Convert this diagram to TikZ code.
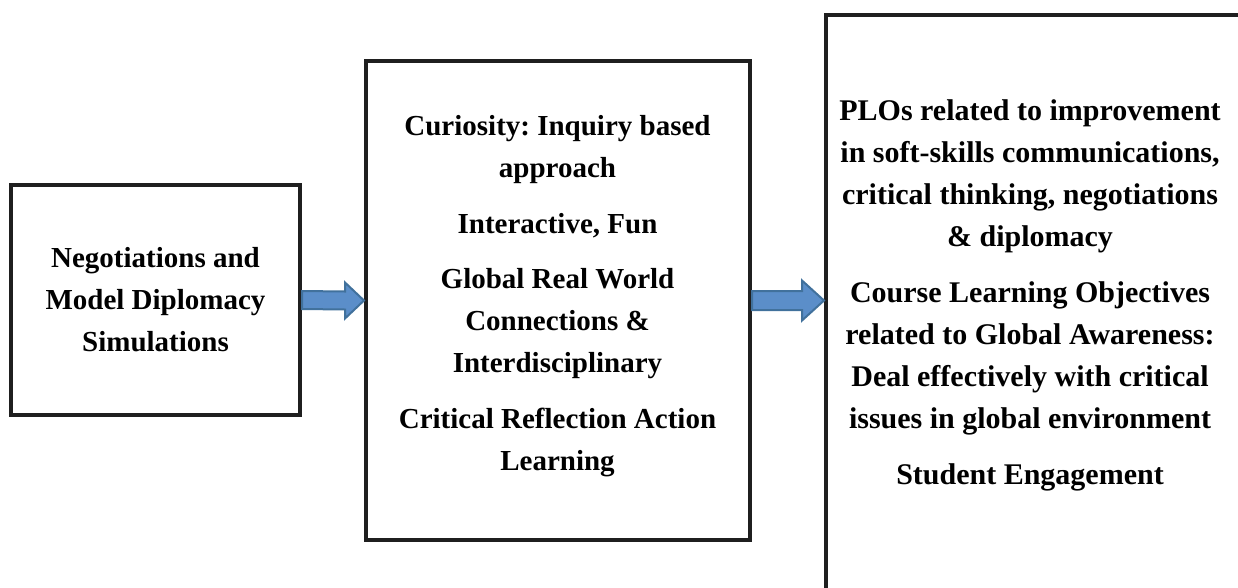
\documentclass[tikz,border=0pt]{standalone}
\usepackage{fontspec}
\setmainfont{Liberation Serif}
\usetikzlibrary{calc}
\definecolor{arrowblue}{RGB}{91,142,201}
\definecolor{arrowedge}{RGB}{65,113,156}
\frenchspacing

\begin{document}
\begin{tikzpicture}[
  x=1pt, y=-1pt,
  box/.style={draw=black!88, line width=4pt, rectangle, inner sep=0pt, align=center},
  txt/.style={align=center, font=\fontsize{29}{42}\selectfont\bfseries},
  blockarrow/.style={fill=arrowblue, draw=arrowedge, line width=2pt, line join=miter},
]
\clip (0,0) rectangle (1238,587);
% --- boxes ---
\node[box, txt, minimum width=289pt, minimum height=230pt] (sim) at (155.5,300) {Negotiations and\\Model Diplomacy\\Simulations};
\node[box, minimum width=384pt, minimum height=479pt] (act) at (558,300.5) {};
\node[txt] (acttext) at (557.5,296) {Curiosity: Inquiry based\\approach\\[13.5pt]Interactive, Fun\\[13.5pt]Global Real World\\Connections \&\\Interdisciplinary\\[13.5pt]Critical Reflection Action\\Learning};
\node[box, minimum width=500pt, minimum height=640pt, anchor=north west] (out) at (824,13) {};
\node[txt, font=\fontsize{30}{42}\selectfont\bfseries] (outtext) at (1030,295.5) {PLOs related to improvement\\in soft-skills communications,\\critical thinking, negotiations\\\& diplomacy\\[14pt]Course Learning Objectives\\related to Global Awareness:\\Deal effectively with critical\\issues in global environment\\[14pt]Student Engagement};
% --- block arrows ---
\filldraw[blockarrow] ($(sim.east)+(0,-9)$) -- ($(act.west)+(-19,-9)$) -- ++(0,-9) -- (act.west)
  -- ++(-19,18) -- ++(0,-9) -- ($(sim.east)+(0,9)$) -- cycle;
\filldraw[blockarrow] ($(act.east)+(0,-9.5)$) -- ($(act.east -| out.west)+(-22,-9.5)$) -- ++(0,-10.5) -- (act.east -| out.west)
  -- ++(-22,20) -- ++(0,-10.5) -- ($(act.east)+(0,9.5)$) -- cycle;
\end{tikzpicture}
\end{document}
